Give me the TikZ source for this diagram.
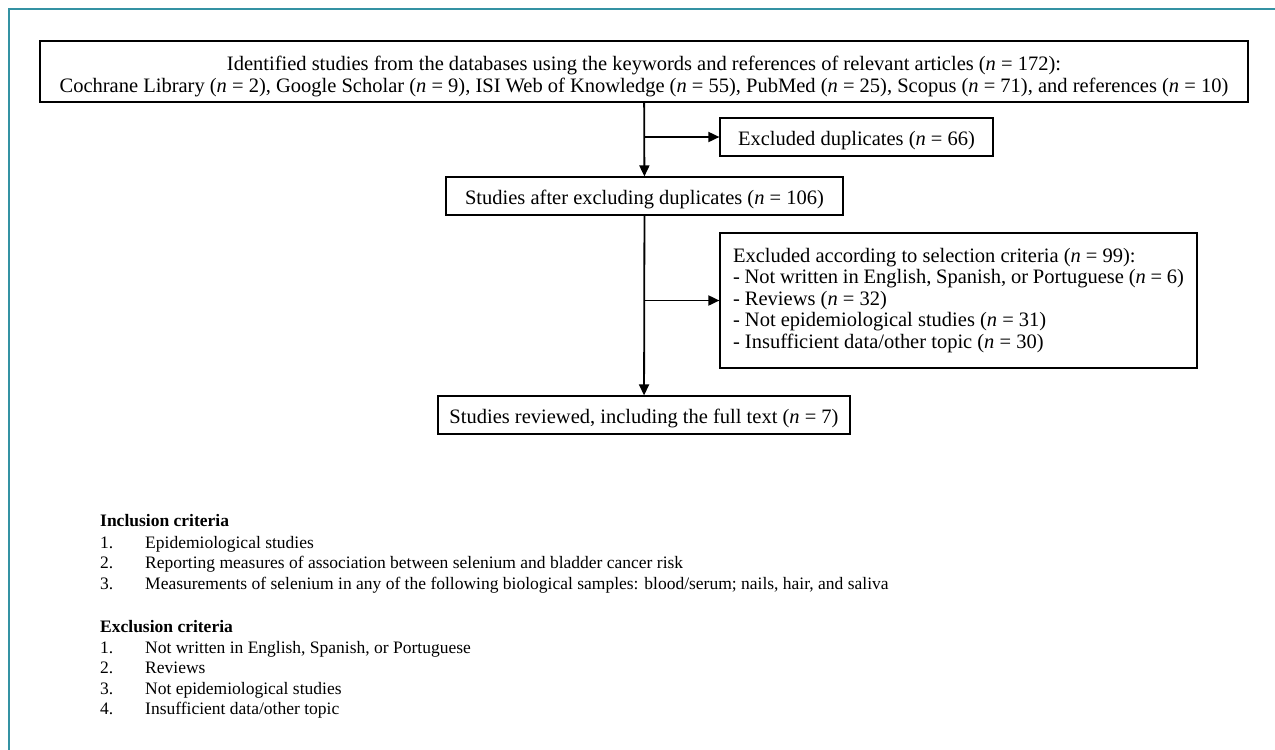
\documentclass[tikz,border=0pt]{standalone}
\usepackage{fontspec}
\setmainfont{Liberation Serif}
\usetikzlibrary{arrows.meta}
\definecolor{frameteal}{RGB}{52,146,163}
\newcommand{\fs}{\fontsize{17.5}{21}\selectfont}
\newcommand{\fb}{\fontsize{20.5}{21.5}\selectfont}
\newcommand{\nn}{\textit{n}}
\tikzset{
  box/.style={draw=black, line width=1.2pt, inner sep=0pt, align=center, font=\fb},
  lowtext/.style={text height=21.5pt},
  arr/.style={line width=1.8pt, -{Triangle[length=11pt,width=10pt]}},
  plain/.style={anchor=base west, inner sep=0pt, font=\fs},
}
\begin{document}
\begin{tikzpicture}[x=1pt,y=-1pt]
\useasboundingbox (0,0) rectangle (1275,750);
\draw[frameteal, line width=2pt] (1275,9) -- (9,9) -- (9,750);

\node[box, text height=46pt, minimum width=1208pt, minimum height=61pt] (top) at (644,71.5)
 {Identified studies from the databases using the keywords and references of relevant articles (\nn{} = 172):\\
  Cochrane Library (\nn{} = 2), Google Scholar (\nn{} = 9), ISI Web of Knowledge (\nn{} = 55), PubMed (\nn{} = 25), Scopus (\nn{} = 71), and references (\nn{} = 10)};

\node[box, lowtext, minimum width=273pt, minimum height=38pt] (dup) at (856.5,137)
 {Excluded duplicates (\nn{} = 66)};

\node[box, lowtext, minimum width=397pt, minimum height=38pt] (b2) at (644.5,196)
 {Studies after excluding duplicates (\nn{} = 106)};

\node[box, minimum width=477pt, minimum height=135pt, text width=451pt, align=flush left] (crit) at (958.5,300.5)
 {Excluded according to selection criteria (\nn{} = 99):\\
  - Not written in English, Spanish, or Portuguese (\nn{} = 6)\\
  - Reviews (\nn{} = 32)\\
  - Not epidemiological studies (\nn{} = 31)\\
  - Insufficient data/other topic (\nn{} = 30)};

\node[box, lowtext, minimum width=412pt, minimum height=38pt] (b4) at (644,415)
 {Studies reviewed, including the full text (\nn{} = 7)};

\draw[arr] (top) -- (b2);
\draw[arr] (b2) -- (b4);
\draw[arr] (top.south |- dup.west) -- (dup.west);
\draw[arr] (b2.south |- crit.west) -- (crit.west);

\node[plain] (inc) at (100,526) {\textbf{Inclusion criteria}};
\node[plain] (i1n) at (100,548) {1.};
\node[plain] (i1) at (145,548) {Epidemiological studies};
\node[plain] (i2n) at (100,568.5) {2.};
\node[plain] (i2) at (145,568.5) {Reporting measures of association between selenium and bladder cancer risk};
\node[plain] (i3n) at (100,589) {3.};
\node[plain] (i3) at (145,589) {Measurements of selenium in any of the following biological samples: blood/serum; nails, hair, and saliva};

\node[plain] (exc) at (100,632) {\textbf{Exclusion criteria}};
\node[plain] (e1n) at (100,653) {1.};
\node[plain] (e1) at (145,653) {Not written in English, Spanish, or Portuguese};
\node[plain] (e2n) at (100,673.5) {2.};
\node[plain] (e2) at (145,673.5) {Reviews};
\node[plain] (e3n) at (100,694) {3.};
\node[plain] (e3) at (145,694) {Not epidemiological studies};
\node[plain] (e4n) at (100,714.5) {4.};
\node[plain] (e4) at (145,714.5) {Insufficient data/other topic};
\end{tikzpicture}
\end{document}
